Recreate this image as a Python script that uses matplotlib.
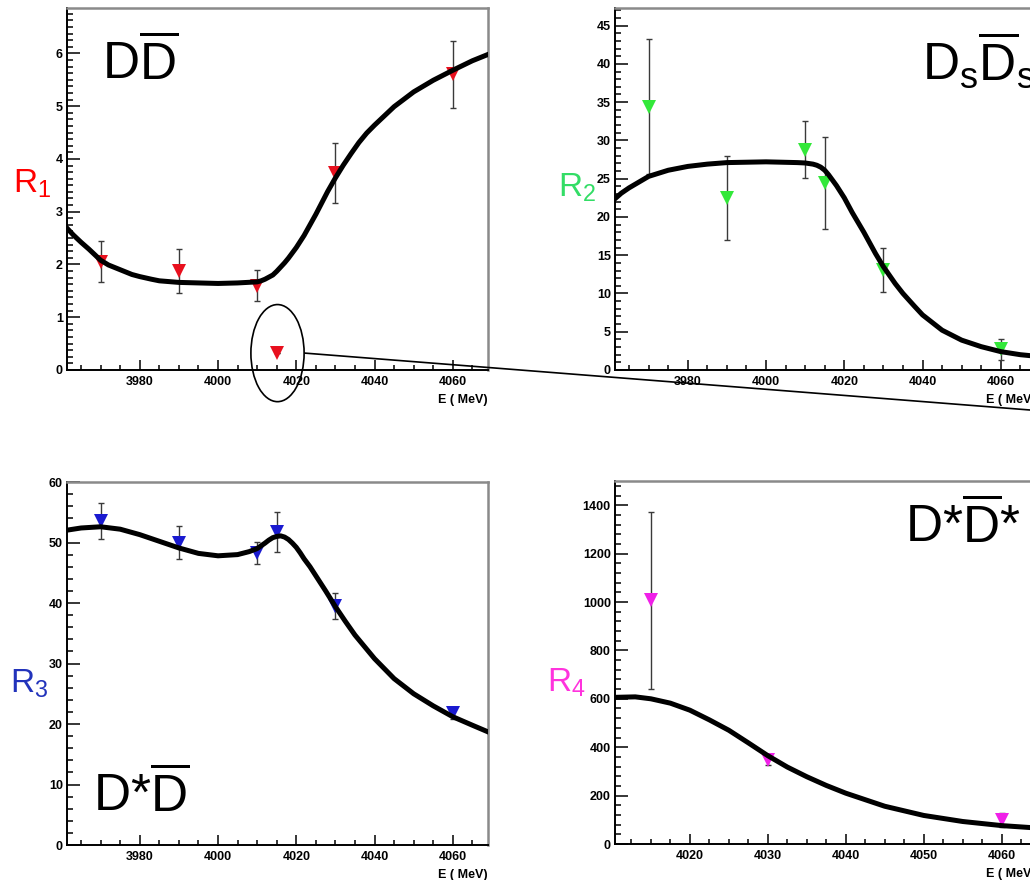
import matplotlib
matplotlib.use("Agg")
import matplotlib.pyplot as plt
from matplotlib.ticker import MultipleLocator
from matplotlib.patches import Ellipse, ConnectionPatch

plt.rcParams["font.family"] = ["Liberation Sans", "DejaVu Sans"]
plt.rcParams["mathtext.fontset"] = "custom"
plt.rcParams["mathtext.rm"] = "Liberation Sans"
plt.rcParams["mathtext.it"] = "Liberation Sans"

# measured points (E in MeV)
e_pts = [3970, 3990, 4010, 4015, 4030, 4060]
r1 = [2.05, 1.87, 1.60, 0.32, 3.74, 5.60]
r1_err = [0.39, 0.42, 0.29, 0.0, 0.57, 0.64]
r2 = [34.4, 22.5, 28.8, 24.4, 13.1, 2.7]
r2_err = [8.85, 5.5, 3.7, 6.0, 2.9, 1.4]
r3 = [53.6, 50.0, 48.3, 51.7, 39.5, 21.75]
r3_err = [2.95, 2.7, 1.8, 3.3, 2.1, 0.85]
e_pts4 = [4015, 4030, 4060]
r4 = [1007, 347, 99]
r4_err = [365, 20, 30]

# fitted curves
fit_e1 = [3961, 3963, 3965, 3967, 3970, 3972, 3975, 3978, 3980, 3983, 3985, 3990,
          3995, 4000, 4005, 4010, 4011, 4012, 4013, 4014, 4015, 4016, 4017, 4018,
          4019, 4020, 4022, 4025, 4028, 4030, 4032, 4034, 4036, 4038, 4040, 4045,
          4050, 4055, 4060, 4065, 4069]
fit_r1 = [2.72, 2.56, 2.42, 2.29, 2.08, 1.99, 1.90, 1.81, 1.77, 1.72, 1.69, 1.66,
          1.65, 1.64, 1.65, 1.67, 1.69, 1.72, 1.76, 1.80, 1.87, 1.95, 2.03, 2.12,
          2.22, 2.32, 2.55, 2.95, 3.38, 3.64, 3.88, 4.10, 4.31, 4.49, 4.64, 4.99,
          5.27, 5.49, 5.68, 5.86, 5.98]
fit_e2 = [3961, 3963, 3965, 3968, 3970, 3975, 3980, 3985, 3990, 4000, 4008, 4010,
          4012, 4013, 4014, 4015, 4016, 4017, 4018, 4019, 4020, 4022, 4025, 4028,
          4030, 4033, 4035, 4038, 4040, 4045, 4050, 4055, 4060, 4065, 4069]
fit_r2 = [22.2, 23.1, 23.8, 24.7, 25.3, 26.1, 26.6, 26.9, 27.1, 27.2, 27.1, 27.05,
          26.9, 26.75, 26.5, 26.1, 25.5, 24.8, 24.1, 23.3, 22.5, 20.6, 18.0, 15.2,
          13.5, 11.3, 10.0, 8.3, 7.2, 5.2, 3.9, 3.05, 2.4, 2.0, 1.8]
fit_e3 = [3961, 3965, 3970, 3975, 3980, 3985, 3990, 3995, 4000, 4005, 4008, 4010,
          4012, 4013, 4014, 4015, 4016, 4017, 4018, 4019, 4020, 4021, 4022, 4023.5,
          4025, 4027.5, 4030, 4032.5, 4035, 4040, 4045, 4050, 4055, 4060, 4065, 4069]
fit_r3 = [52.0, 52.4, 52.6, 52.2, 51.3, 50.2, 49.1, 48.2, 47.8, 48.0, 48.5, 49.0,
          49.9, 50.4, 50.8, 51.0, 51.1, 50.9, 50.5, 49.9, 49.2, 48.3, 47.3, 46.0,
          44.5, 42.0, 39.4, 37.0, 34.7, 30.8, 27.5, 25.0, 23.0, 21.2, 19.8, 18.7]
fit_e4 = [4010.4, 4013, 4015, 4017.5, 4020, 4022.5, 4025, 4027.5, 4030, 4032.5,
          4035, 4037.5, 4040, 4045, 4050, 4055, 4060, 4065]
fit_r4 = [606, 608, 600, 582, 553, 513, 470, 418, 365, 318, 278, 242, 210, 156,
          118, 93, 76, 65]

W, H = 1030, 880


def px_axes(fig, left, top, right, bottom):
    return fig.add_axes([left / W, 1 - bottom / H, (right - left) / W, (bottom - top) / H])


def style(ax, xlim, ylim, xmaj, xmin, ymaj, ymin):
    ax.set_xlim(*xlim)
    ax.set_ylim(*ylim)
    ax.xaxis.set_major_locator(MultipleLocator(xmaj))
    ax.xaxis.set_minor_locator(MultipleLocator(xmin))
    ax.yaxis.set_major_locator(MultipleLocator(ymaj))
    ax.yaxis.set_minor_locator(MultipleLocator(ymin))
    for side in ("top", "right"):
        ax.spines[side].set_color("#8a8a8a")
        ax.spines[side].set_linewidth(1.8)
    for side in ("left", "bottom"):
        ax.spines[side].set_color("black")
        ax.spines[side].set_linewidth(1.4)
    ax.tick_params(which="both", direction="in", top=False, right=False,
                   width=1.1, labelsize=9)
    ax.tick_params(axis="y", which="major", length=9, pad=3)
    ax.tick_params(axis="y", which="minor", length=4.5)
    ax.tick_params(axis="x", which="major", length=7, pad=4)
    ax.tick_params(axis="x", which="minor", length=3.5)
    for lab in ax.get_xticklabels() + ax.get_yticklabels():
        lab.set_fontweight("bold")
    ax.text(1.0, -0.066, "E ( MeV)", transform=ax.transAxes, ha="right", va="top",
            fontsize=9, fontweight="bold")


def draw(ax, e, r, err, fe, fr, color):
    ax.errorbar(e, r, yerr=err, fmt="none", ecolor="#3a3a3a", elinewidth=1.0,
                capsize=2, capthick=1.0, zorder=2)
    ax.plot(e, r, "v", color=color, ms=9.5, mew=0, zorder=3)
    ax.plot(fe, fr, color="black", lw=3.6, solid_joinstyle="round", zorder=4)


fig = plt.figure(figsize=(W / 100, H / 100), dpi=100)

ax1 = px_axes(fig, 67, 8, 488, 370)
style(ax1, (3961.4, 4069), (0, 6.86), 20, 5, 1, 0.125)
draw(ax1, e_pts, r1, r1_err, fit_e1, fit_r1, "#e8101e")

ax2 = px_axes(fig, 615, 8, 1036, 370)
style(ax2, (3961.4, 4069), (0, 47.3), 20, 5, 5, 1)
draw(ax2, e_pts, r2, r2_err, fit_e2, fit_r2, "#33e83a")

ax3 = px_axes(fig, 67, 482, 488, 845)
style(ax3, (3961.4, 4069), (0, 60), 20, 5, 10, 2)
draw(ax3, e_pts, r3, r3_err, fit_e3, fit_r3, "#1a1ad0")

ax4 = px_axes(fig, 615, 481, 1036, 844)
style(ax4, (4010.4, 4064.4), (0, 1500), 10, 2.5, 200, 40)
draw(ax4, e_pts4, r4, r4_err, fit_e4, fit_r4, "#f020e8")

# circled outlier in the first panel and the line leading away from it
ell = Ellipse((4015.2, 0.32), 13.6, 1.84, fill=False, edgecolor="black", lw=1.2,
              clip_on=False, zorder=5)
ax1.add_patch(ell)
con = ConnectionPatch(xyA=(4022.2, 0.32), coordsA=ax1.transData,
                      xyB=(1.0, 1 - 410 / H), coordsB=fig.transFigure,
                      color="black", lw=1.2)
fig.add_artist(con)

# ratio labels
fig.text(13 / W, 1 - 193 / H, r"$\mathregular{R_1}$", color="#ff0000", fontsize=24,
         va="baseline")
fig.text(558 / W, 1 - 197 / H, r"$\mathregular{R_2}$", color="#33dd66", fontsize=24,
         va="baseline")
fig.text(10 / W, 1 - 693 / H, r"$\mathregular{R_3}$", color="#2233bb", fontsize=24,
         va="baseline")
fig.text(547 / W, 1 - 692 / H, r"$\mathregular{R_4}$", color="#ff33dd", fontsize=24,
         va="baseline")

# channel names
fig.text(102 / W, 1 - 80 / H, r"$\mathregular{D\overline{D}}$", fontsize=37,
         va="baseline")
fig.text(922 / W, 1 - 80 / H, r"$\mathregular{D_s\overline{D}_s}$", fontsize=37,
         va="baseline")
fig.text(93 / W, 1 - 812 / H, r"$\mathregular{D{*}\overline{D}}$", fontsize=37,
         va="baseline")
fig.text(905 / W, 1 - 543 / H, r"$\mathregular{D{*}\overline{D}{*}}$", fontsize=37,
         va="baseline")

fig.savefig("out.png", dpi=100)
plt.close(fig)
